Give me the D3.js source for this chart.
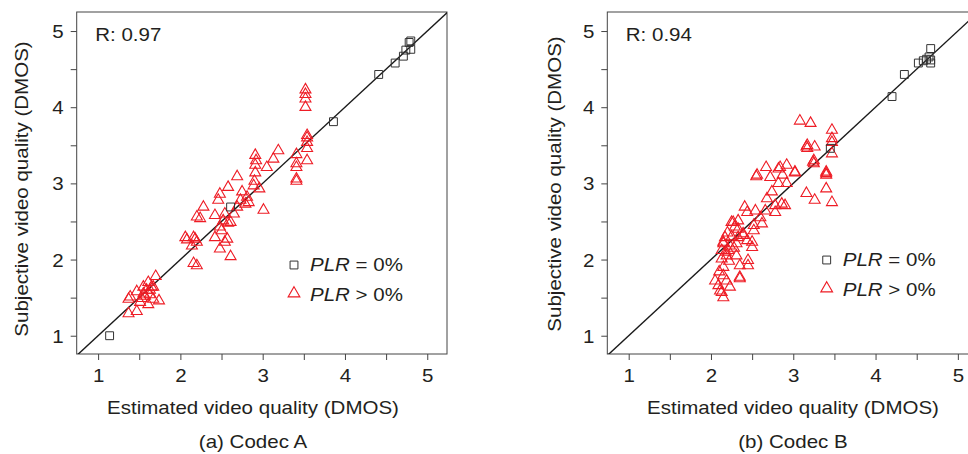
<!DOCTYPE html>
<html>
<head>
<meta charset="utf-8">
<script src="https://cdn.jsdelivr.net/npm/d3@7"></script>
<style>
  html, body { margin: 0; padding: 0; background: #fff; }
  svg { display: block; overflow: hidden; }
  text { font-family: "Liberation Sans", Arial, Helvetica, sans-serif; fill: #231f20; }
</style>
</head>
<body>
<svg id="chart" width="968" height="454"></svg>
<script>
// Codec A: loss-free sequences (squares) and lossy sequences (triangles)
const codecA_lossFree_est = [4.80, 4.78, 4.80, 4.74, 4.71, 4.61, 4.41, 3.86, 1.14, 2.61];
const codecA_lossFree_sub = [4.87, 4.85, 4.76, 4.75, 4.67, 4.58, 4.43, 3.81, 1.00, 2.69];

const codecA_lossy_est = [
  3.52, 3.52, 3.52, 3.52, 3.54, 3.54, 3.54, 3.54, 3.54,
  3.41, 3.41, 3.41, 3.41, 3.41,
  3.19, 3.13, 3.05,
  2.91, 2.92, 2.91, 2.91, 2.90, 2.96, 2.89, 2.69,
  2.58, 2.48, 2.46, 2.28, 2.20, 2.24, 2.42, 2.52, 2.48, 2.50, 2.58, 2.65, 2.69, 2.73, 2.81, 2.79, 3.01, 2.75, 2.83, 2.61, 2.54,
  2.06, 2.08, 2.18, 2.14, 2.20, 2.16, 2.42, 2.57, 2.48, 2.54, 2.61, 2.16, 2.20,
  1.70, 1.61, 1.67, 1.47, 1.39, 1.37, 1.55, 1.63, 1.74, 1.61, 1.47, 1.37, 1.53, 1.59, 1.65, 1.51, 1.67, 1.55, 1.57, 1.63
];
const codecA_lossy_sub = [
  4.23, 4.17, 4.11, 4.00, 3.63, 3.54, 3.46, 3.30, 3.60,
  3.38, 3.26, 3.21, 3.06, 3.03,
  3.43, 3.32, 3.21,
  3.37, 3.30, 3.24, 3.14, 3.03, 2.93, 2.97, 3.09,
  2.95, 2.86, 2.78, 2.69, 2.56, 2.54, 2.58, 2.51, 2.43, 2.38, 2.48, 2.60, 2.69, 2.78, 2.82, 2.73, 2.65, 2.89, 2.75, 2.49, 2.60,
  2.29, 2.26, 2.27, 2.18, 2.23, 2.29, 2.29, 2.27, 2.14, 2.23, 2.04, 1.95, 1.92,
  1.78, 1.70, 1.64, 1.58, 1.51, 1.48, 1.55, 1.54, 1.46, 1.41, 1.32, 1.29, 1.49, 1.60, 1.64, 1.44, 1.48, 1.64, 1.52, 1.60
];

// Codec B
const codecB_lossFree_est = [4.67, 4.65, 4.62, 4.58, 4.67, 4.67, 4.52, 4.35, 4.20, 3.45];
const codecB_lossFree_sub = [4.77, 4.66, 4.63, 4.61, 4.62, 4.58, 4.58, 4.43, 4.14, 3.46];

const codecB_lossy_est = [
  3.08, 3.21, 3.47, 3.47, 3.47, 3.47, 3.17, 3.17, 3.16, 3.26, 3.25, 3.25, 3.24, 3.40, 3.40, 3.40,
  2.67, 2.82, 2.92, 3.02, 2.56, 2.87, 3.02, 2.92, 2.82, 2.72, 2.55, 2.74, 2.68, 2.86, 2.78, 2.78, 2.66, 2.54, 2.41, 2.44,
  2.62, 2.52, 2.52, 2.33, 2.25, 2.39, 2.33, 2.44, 2.50, 2.15, 2.23, 2.13, 2.19, 2.31, 2.45, 2.45, 2.35, 2.13, 2.15,
  2.35, 2.05, 2.09, 2.23, 2.13, 2.15, 2.19, 2.29,
  3.40, 3.47, 3.26, 3.16, 2.90, 2.84, 2.39, 2.21, 2.31, 2.15, 2.17, 2.11, 2.15, 2.35, 2.27, 2.33, 2.50, 2.60, 2.20, 2.25,
  2.18, 2.22, 2.10, 2.28
];
const codecB_lossy_sub = [
  3.82, 3.79, 3.70, 3.59, 3.54, 3.39, 3.50, 3.46, 3.48, 3.48, 3.30, 3.26, 3.28, 3.15, 3.11, 3.13,
  3.21, 3.19, 3.24, 3.15, 3.11, 3.11, 3.14, 3.00, 3.00, 3.08, 3.09, 2.89, 2.80, 2.73, 2.71, 2.62, 2.64, 2.64, 2.69, 2.62,
  2.47, 2.45, 2.38, 2.51, 2.49, 2.34, 2.29, 2.25, 2.16, 2.23, 2.18, 2.12, 2.05, 2.05, 1.99, 1.92, 1.92, 2.01, 1.90,
  1.75, 1.72, 1.66, 1.64, 1.57, 1.50, 1.72, 2.43,
  2.93, 2.75, 2.78, 2.87, 2.71, 3.21, 2.32, 2.12, 2.21, 2.21, 2.29, 1.59, 1.79, 1.77, 2.49, 2.40, 2.23, 2.55, 2.35, 2.30,
  2.10, 1.98, 1.84, 2.15
];

const majorTicks = [1, 2, 3, 4, 5];
const minorTicks = [1.5, 2.5, 3.5, 4.5];
const correlations = ["R: 0.97", "R: 0.94"];
const captions = ["(a) Codec A", "(b) Codec B"];
const xTitle = "Estimated video quality (DMOS)";
const yTitle = "Subjective video quality (DMOS)";

const xLim = [0.74, 5.24];
const yLim = [0.76, 5.25];

const panels = [
  {
    left: 76.7, titleX: 253, yTitleX: 28, yTitleY: 189,
    legendX: 294, legendY: 265,
    r: correlations[0], caption: captions[0],
    sqX: codecA_lossFree_est, sqY: codecA_lossFree_sub,
    trX: codecA_lossy_est, trY: codecA_lossy_sub
  },
  {
    left: 607.3, titleX: 793, yTitleX: 561, yTitleY: 184,
    legendX: 826.7, legendY: 260,
    r: correlations[1], caption: captions[1],
    sqX: codecB_lossFree_est, sqY: codecB_lossFree_sub,
    trX: codecB_lossy_est, trY: codecB_lossy_sub
  }
];

const svg = d3.select("#chart");
const boxTop = 12, boxBottom = 354, boxW = 370.3;
const red = "#ee1c25", ink = "#231f20";
const FS = 18, SX = 1.14;   // type size and horizontal set width of the lettering
const triangle = d3.symbol().type(d3.symbolTriangle).size(52);
const square = d3.symbol().type(d3.symbolSquare).size(62);

// Place a text label whose glyphs are set slightly wide
function label(parent, x, y, str, anchor, rotated) {
  return parent.append("text")
    .attr("transform", `translate(${x},${y})${rotated ? " rotate(-90)" : ""} scale(${SX},1)`)
    .attr("text-anchor", anchor || "start")
    .attr("font-size", FS)
    .text(str);
}

panels.forEach((p, i) => {
  const x = d3.scaleLinear().domain(xLim).range([p.left, p.left + boxW]);
  const y = d3.scaleLinear().domain(yLim).range([boxBottom, boxTop]);
  const g = svg.append("g");

  const clipId = "clip" + i;
  g.append("clipPath").attr("id", clipId)
    .append("rect").attr("x", p.left).attr("y", boxTop).attr("width", boxW).attr("height", boxBottom - boxTop);

  // Axes: ticks every 0.5, labels on integers
  const allTicks = majorTicks.concat(minorTicks);
  const xAxis = d3.axisBottom(x).tickValues(allTicks).tickSize(6)
    .tickFormat(d => Number.isInteger(d) ? d : "");
  const yAxis = d3.axisLeft(y).tickValues(allTicks).tickSize(6)
    .tickFormat(d => Number.isInteger(d) ? d : "");

  const gx = g.append("g").attr("transform", `translate(0,${boxBottom})`).call(xAxis);
  const gy = g.append("g").attr("transform", `translate(${p.left},0)`).call(yAxis);
  [gx, gy].forEach(a => {
    a.select(".domain").remove();
    a.selectAll(".tick line").attr("stroke", "#444").attr("stroke-width", 1);
    a.selectAll(".tick text").attr("font-size", FS).attr("fill", ink)
      .style("font-family", '"Liberation Sans", Arial, sans-serif');
  });
  gx.selectAll(".tick text").attr("y", 0).attr("dy", null)
    .attr("transform", `translate(0,28) scale(${SX},1)`);
  gy.selectAll(".tick text").attr("x", 0).attr("dy", "0.36em")
    .attr("transform", `translate(-13,0) scale(${SX},1)`);

  // Plot frame
  g.append("rect").attr("x", p.left).attr("y", boxTop).attr("width", boxW).attr("height", boxBottom - boxTop)
    .attr("fill", "none").attr("stroke", "#444").attr("stroke-width", 1);

  const plot = g.append("g").attr("clip-path", `url(#${clipId})`);

  // Identity line
  const lo = Math.max(xLim[0], yLim[0]), hi = Math.min(xLim[1], yLim[1]);
  plot.append("line")
    .attr("x1", x(lo - 1)).attr("y1", y(lo - 1))
    .attr("x2", x(hi + 1)).attr("y2", y(hi + 1))
    .attr("stroke", "#1a1a1a").attr("stroke-width", 1.4);

  // Lossy sequences
  plot.selectAll(".tri").data(d3.range(p.trX.length)).join("path")
    .attr("class", "tri")
    .attr("d", triangle)
    .attr("transform", k => `translate(${x(p.trX[k])},${y(p.trY[k])})`)
    .attr("fill", "none").attr("stroke", red).attr("stroke-width", 1.1);

  // Loss-free sequences
  plot.selectAll(".sq").data(d3.range(p.sqX.length)).join("path")
    .attr("class", "sq")
    .attr("d", square)
    .attr("transform", k => `translate(${x(p.sqX[k])},${y(p.sqY[k])})`)
    .attr("fill", "none").attr("stroke", "#333").attr("stroke-width", 1);

  // Correlation annotation
  label(g, p.left + 18.5, 40.7, p.r);

  // Legend
  const lg = g.append("g").attr("transform", `translate(${p.legendX},${p.legendY})`);
  lg.append("path").attr("d", square).attr("fill", "none").attr("stroke", "#333").attr("stroke-width", 1);
  lg.append("path").attr("d", d3.symbol().type(d3.symbolTriangle).size(60)())
    .attr("transform", "translate(0,28.5)")
    .attr("fill", "none").attr("stroke", red).attr("stroke-width", 1.1);
  const t1 = label(lg, 16, 6, null);
  t1.append("tspan").attr("font-style", "italic").text("PLR");
  t1.append("tspan").text(" = 0%");
  const t2 = label(lg, 16, 35.5, null);
  t2.append("tspan").attr("font-style", "italic").text("PLR");
  t2.append("tspan").text(" > 0%");

  // Axis titles and caption
  label(g, p.titleX, 414, xTitle, "middle");
  label(g, p.yTitleX, p.yTitleY, yTitle, "middle", true);
  label(g, p.titleX, 448, p.caption, "middle");
});
</script>
</body>
</html>
